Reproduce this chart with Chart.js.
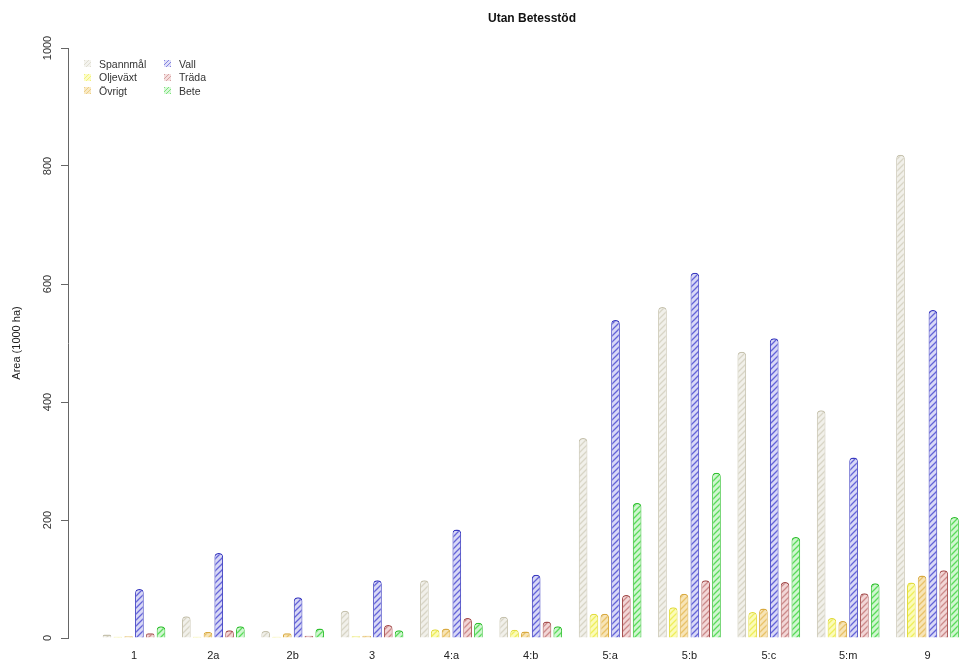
<!DOCTYPE html>
<html>
<head>
<meta charset="utf-8">
<script src="https://cdn.jsdelivr.net/npm/chart.js@4"></script>
<style>
  html, body { margin:0; padding:0; background:#fff; overflow:hidden; width:959px; height:665px; }
  #wrap { position:relative; width:1000px; height:665px; }
  #legend { position:absolute; left:84px; top:57px; display:grid; grid-template-columns:80px 80px; grid-auto-flow:column; grid-template-rows:repeat(3,13.5px);
            font-family:"Liberation Sans", Arial, sans-serif; font-size:10.5px; color:#333; }
  .item { display:flex; align-items:center; white-space:nowrap; }
  .sw { width:7px; height:7px; margin-right:8px; box-sizing:border-box; }
</style>
</head>
<body>
<div id="wrap">
  <canvas id="c" width="1000" height="665"></canvas>
  <div id="legend"></div>
</div>
<script>
const categories = ['1','2a','2b','3','4:a','4:b','5:a','5:b','5:c','5:m','9'];
const seriesNames = ['Spannmål','Oljeväxt','Övrigt','Vall','Träda','Bete'];
const spannmal = [6, 37, 12, 46, 98, 36, 339, 561, 485, 386, 819];
const oljevaxt = [2, 2, 2, 3, 15, 14, 41, 52, 44, 34, 94];
const ovrigt   = [3, 10, 8, 4, 16, 11, 41, 75, 50, 29, 106];
const vall     = [83, 144, 69, 98, 184, 107, 539, 619, 508, 306, 556];
const trada    = [8, 13, 4, 22, 34, 28, 73, 98, 95, 76, 115];
const bete     = [20, 20, 16, 13, 26, 20, 229, 280, 171, 93, 205];
const yTicks = [0, 200, 400, 600, 800, 1000];

const seriesValues = [spannmal, oljevaxt, ovrigt, vall, trada, bete];
const palette = [
  {base:'#f1f0ea', line:'#d8d5c6', border:'#c6c2ae'},
  {base:'#fbfbb8', line:'#eeee5a', border:'#e2dc40'},
  {base:'#f7e4b6', line:'#e8c268', border:'#d9aa40'},
  {base:'#d8d8f6', line:'#6464d8', border:'#3a3ac0'},
  {base:'#f2d6d6', line:'#cc8a8a', border:'#a65050'},
  {base:'#d0f6d0', line:'#5adc5a', border:'#30c030'}
];

function hatch(p) {
  const s = 6, cv = document.createElement('canvas');
  cv.width = s; cv.height = s;
  const g = cv.getContext('2d');
  g.fillStyle = p.base; g.fillRect(0,0,s,s);
  g.strokeStyle = p.line; g.lineWidth = 1.3;
  g.beginPath();
  g.moveTo(0,s); g.lineTo(s,0);
  g.moveTo(-s/2,s/2); g.lineTo(s/2,-s/2);
  g.moveTo(s/2,s*1.5); g.lineTo(s*1.5,s/2);
  g.stroke();
  return g.createPattern(cv, 'repeat');
}

const datasets = seriesNames.map((name, k) => ({
  label: name,
  data: seriesValues[k].map((v, i) => ({x: i + 1, y: v})),
  backgroundColor: hatch(palette[k]),
  borderColor: palette[k].border,
  borderWidth: {left:1, right:1, top:1.5, bottom:0},
  borderRadius: {topLeft:4, topRight:4, bottomLeft:0, bottomRight:0},
  borderSkipped: 'start',
  categoryPercentage: 0.817,
  barPercentage: 0.8
}));

// legend (HTML, built from the series arrays)
const lg = document.getElementById('legend');
seriesNames.forEach((name, k) => {
  const d = document.createElement('div'); d.className = 'item';
  const sw = document.createElement('span'); sw.className = 'sw';
  sw.style.background = `repeating-linear-gradient(135deg, ${palette[k].line} 0 1px, ${palette[k].base} 1px 3px)`;
  sw.style.opacity = '0.8';
  d.appendChild(sw);
  d.appendChild(document.createTextNode(name));
  lg.appendChild(d);
});

const FONT = '"Liberation Sans", Arial, sans-serif';
new Chart(document.getElementById('c'), {
  type: 'bar',
  data: { datasets },
  options: {
    responsive: false,
    animation: false,
    devicePixelRatio: 1,
    layout: { padding: { left: 0, right: 4, top: 0, bottom: 0 } },
    plugins: {
      legend: { display: false },
      tooltip: { enabled: false },
      title: {
        display: true,
        text: 'Utan Betesstöd',
        fullSize: false,
        color: '#111',
        font: { family: FONT, size: 12, weight: 'bold', lineHeight: 1.2 },
        padding: { top: 11, bottom: 22.6 }
      }
    },
    scales: {
      x: {
        type: 'linear',
        min: 0.1682,
        max: 11.863,
        offset: false,
        grid: { display: false, drawTicks: false },
        border: { display: false },
        afterBuildTicks: (s) => { s.ticks = categories.map((c, i) => ({ value: i + 1 })); },
        afterFit: (s) => { s.height = 27; },
        ticks: {
          autoSkip: false,
          maxRotation: 0,
          padding: 11,
          color: '#222',
          font: { family: FONT, size: 11 },
          callback: (v) => categories[Math.round(v) - 1]
        }
      },
      y: {
        min: 0,
        max: 1000,
        afterBuildTicks: (s) => { s.ticks = yTicks.map(v => ({ value: v })); },
        afterFit: (s) => { s.width = 68; },
        grid: { display: true, drawOnChartArea: false, drawTicks: true, tickLength: 7, color: '#666', lineWidth: 1 },
        border: { display: true, color: '#666', width: 1 },
        ticks: {
          minRotation: 90,
          maxRotation: 90,
          crossAlign: 'center',
          padding: 1,
          color: '#333',
          font: { family: FONT, size: 11 },
          callback: (v) => String(v)
        },
        title: {
          display: true,
          text: 'Area (1000 ha)',
          color: '#222',
          font: { family: FONT, size: 11 },
          padding: { top: 10, bottom: 0 }
        }
      }
    }
  }
});
</script>
</body>
</html>
